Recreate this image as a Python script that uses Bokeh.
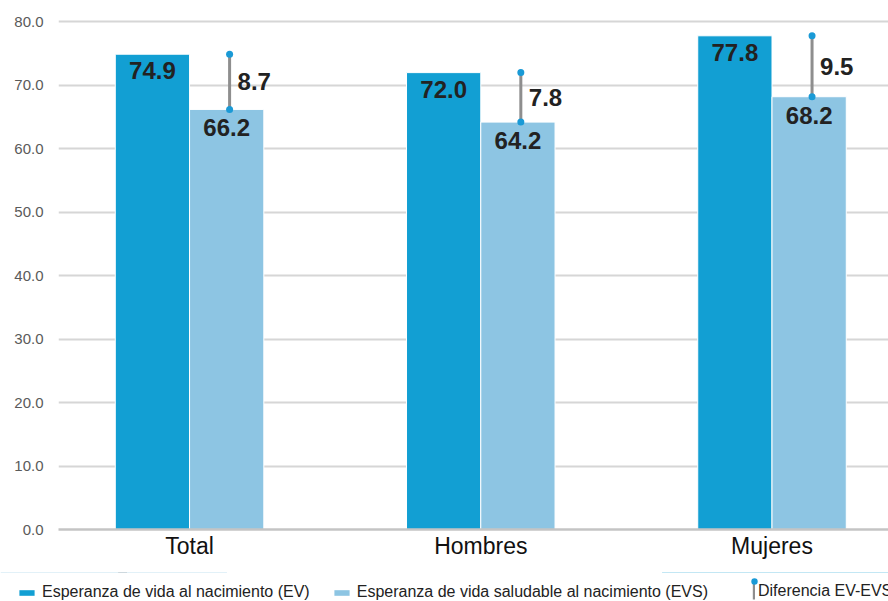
import numpy as np
from bokeh.plotting import figure
from bokeh.layouts import column
from bokeh.models import Range1d, FixedTicker, NumeralTickFormatter, Legend, LegendItem, ColumnDataSource
from bokeh.core.properties import value
from bokeh.embed import file_html
from bokeh.resources import INLINE

categories = ["Total", "Hombres", "Mujeres"]
ev = [74.9, 72.0, 77.8]
evs = [66.2, 64.2, 68.2]
diff = [8.7, 7.8, 9.5]
y_ticks = [0, 10, 20, 30, 40, 50, 60, 70, 80]
series_names = ["Esperanza de vida al nacimiento (EV)",
                "Esperanza de vida saludable al nacimiento (EVS)",
                "Diferencia EV-EVS"]

FONT = "Liberation Sans"
EV_COLOR = "#129FD3"
EVS_COLOR = "#8DC5E3"
DOT_COLOR = "#1A9AD6"
DIFF_COLOR = "#8E8E8E"

idx = np.arange(len(categories))
w = 0.255
src = ColumnDataSource(dict(
    x_ev=idx - w / 2,
    x_evs=idx + w / 2,
    x_d=idx + w / 2 + 0.01,
    ev=ev, evs=evs,
    mid=[(a + b) / 2 for a, b in zip(ev, evs)],
    ev_txt=[f"{v:.1f}" for v in ev],
    evs_txt=[f"{v:.1f}" for v in evs],
    diff_txt=[f"{v:.1f}" for v in diff],
))

p = figure(width=888, height=572, output_backend="svg", toolbar_location=None,
           x_range=Range1d(-0.45, 2.40), y_range=Range1d(0, 81),
           min_border_left=58, min_border_right=0, min_border_top=15, min_border_bottom=43)
p.frame_align = False
p.outline_line_color = None
p.background_fill_color = "white"
p.border_fill_color = "white"

p.vbar(x="x_ev", top="ev", bottom=0, width=w, source=src,
       fill_color=EV_COLOR, line_color="white", line_width=1)
p.vbar(x="x_evs", top="evs", bottom=0, width=w, source=src,
       fill_color=EVS_COLOR, line_color="white", line_width=1)
p.segment(x0="x_d", y0="ev", x1="x_d", y1="evs", source=src,
          line_color=DIFF_COLOR, line_width=3)
p.scatter(x="x_d", y="ev", size=7, source=src, fill_color=DOT_COLOR, line_color=None)
p.scatter(x="x_d", y="evs", size=7, source=src, fill_color=DOT_COLOR, line_color=None)

common = dict(text_font=value(FONT), text_font_style="bold", text_font_size="24px", text_color="#222222")
p.text(x="x_ev", y="ev", text="ev_txt", source=src, text_align="center", text_baseline="top", y_offset=8, **common)
p.text(x="x_evs", y="evs", text="evs_txt", source=src, text_align="center", text_baseline="top", y_offset=10, **common)
p.text(x="x_d", y="mid", text="diff_txt", source=src, text_align="left", text_baseline="middle", x_offset=8, **common)

# axes
p.xgrid.visible = False
p.ygrid.grid_line_color = "#D6D6D6"
p.ygrid.grid_line_width = 2
p.yaxis.ticker = FixedTicker(ticks=y_ticks)
p.yaxis.formatter = NumeralTickFormatter(format="0.0")
p.yaxis.axis_line_color = None
p.yaxis.major_tick_line_color = None
p.yaxis.minor_tick_line_color = None
p.yaxis.major_tick_out = 0
p.yaxis.major_label_text_font = FONT
p.yaxis.major_label_text_font_size = "15px"
p.yaxis.major_label_text_color = "#5A5A5A"
p.yaxis.major_label_standoff = 15

p.xaxis.ticker = FixedTicker(ticks=list(idx))
p.xaxis.major_label_overrides = {int(i): c for i, c in zip(idx, categories)}
p.xaxis.axis_line_color = "#C4C4C4"
p.xaxis.axis_line_width = 2.5
p.xaxis.major_tick_line_color = None
p.xaxis.minor_tick_line_color = None
p.xaxis.major_tick_out = 0
p.xaxis.major_label_text_font = FONT
p.xaxis.major_label_text_font_size = "23px"
p.xaxis.major_label_text_color = "#111111"
p.xaxis.major_label_standoff = 3

# legend strip below the chart
pl = figure(width=888, height=29, output_backend="svg", toolbar_location=None,
            x_range=Range1d(0, 1), y_range=Range1d(0, 1),
            min_border_left=0, min_border_right=0, min_border_top=0, min_border_bottom=0)
pl.frame_align = False
pl.axis.visible = False
pl.grid.visible = False
pl.outline_line_color = None
pl.border_fill_color = "white"
# legend proxies: same data, outside this strip's ranges
l_ev = pl.vbar(x="x_ev", top="ev", bottom="ev", width=w, source=src, fill_color=EV_COLOR, line_color=None)
l_evs = pl.vbar(x="x_evs", top="evs", bottom="evs", width=w, source=src, fill_color=EVS_COLOR, line_color=None)
l_diff = pl.vbar(x="x_d", top="ev", bottom="evs", width=0.01, source=src, fill_color=DIFF_COLOR, line_color=None)
l_dot = pl.scatter(x="x_d", y="ev", source=src, fill_color=DOT_COLOR, line_color=None)

leg_style = dict(padding=0, margin=0, border_line_alpha=0, background_fill_alpha=0,
                 label_text_font=FONT, label_text_font_size="16px", label_text_color="#222222",
                 orientation="horizontal")
leg1 = Legend(items=[LegendItem(label=series_names[0], renderers=[l_ev], index=0),
                     LegendItem(label=series_names[1], renderers=[l_evs], index=0)],
              location=(17, 0), glyph_width=19, glyph_height=7, label_height=18,
              label_standoff=6, spacing=22, **leg_style)
leg2 = Legend(items=[LegendItem(label=series_names[2], renderers=[l_diff], index=0)],
              location=(752, 0), glyph_width=3, glyph_height=20, label_height=18,
              label_standoff=3, spacing=0, **leg_style)
leg3 = Legend(items=[LegendItem(label="", renderers=[l_dot], index=0)],
              location=(746, 12), glyph_width=16, glyph_height=16, label_height=16,
              label_standoff=0, spacing=0, **leg_style)
pl.add_layout(leg1)
pl.add_layout(leg2)
pl.add_layout(leg3)

layout = column(p, pl, spacing=0)
open("out.html", "w").write(file_html(layout, INLINE))
